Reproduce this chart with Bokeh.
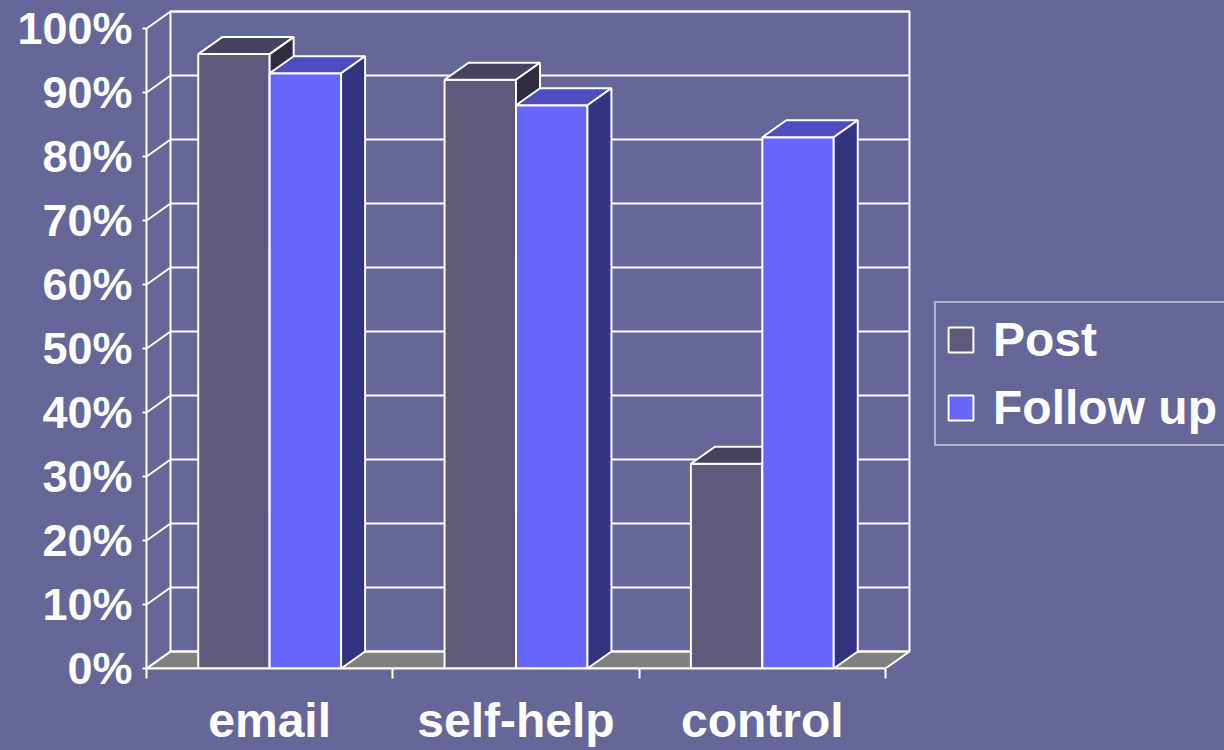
from bokeh.plotting import figure
from bokeh.models import (Range1d, LinearAxis, FixedTicker, Legend, LegendItem)
from bokeh.embed import file_html
from bokeh.resources import INLINE

# ---- data ----
categories = ["email", "self-help", "control"]
post = [96, 92, 32]              # Post (%)
follow_up = [93, 88, 83]         # Follow up (%)
y_ticks = [0, 10, 20, 30, 40, 50, 60, 70, 80, 90, 100]
y_tick_labels = ["0%", "10%", "20%", "30%", "40%", "50%", "60%", "70%", "80%", "90%", "100%"]

# ---- style ----
BG = "#666699"
POST_FRONT, POST_TOP, POST_SIDE = "#5f597c", "#474260", "#2f2c40"
FU_FRONT, FU_TOP, FU_SIDE = "#6666ff", "#4d4dbf", "#333380"
FLOOR = "#808080"
FONT = "Liberation Sans"
PX_PER_CAT = 246.33
PX_PER_PCT = 6.4
DX = 24 / PX_PER_CAT
DY = 17 / PX_PER_PCT
BAR_W = 0.29

W, H = 1224, 750
LEFT, BOTTOM = 146, 82
frame_w = W - LEFT
frame_h = H - BOTTOM

p = figure(width=W, height=H, output_backend="svg", toolbar_location=None,
           x_range=Range1d(0, frame_w / PX_PER_CAT),
           y_range=Range1d(0, frame_h / PX_PER_PCT),
           x_axis_type=None, y_axis_type=None,
           min_border_left=LEFT, min_border_right=0, min_border_top=0,
           min_border_bottom=BOTTOM)
p.background_fill_alpha = 0
p.border_fill_color = BG
p.outline_line_color = None
p.xgrid.visible = False
p.ygrid.visible = False
p.styles = {"background-color": BG}

ncat = len(categories)
LW = 2

# floor
p.patch([0, ncat, ncat + DX, DX], [0, 0, DY, DY], fill_color=FLOOR,
        line_color="white", line_width=LW)
# back wall
p.patch([DX, ncat + DX, ncat + DX, DX], [DY, DY, 100 + DY, 100 + DY],
        fill_color=None, line_color="white", line_width=LW)
# gridlines: back wall horizontals and left-wall diagonals
gx0, gx1, gy = [], [], []
for t in y_ticks[1:]:
    gx0.append(DX); gx1.append(ncat + DX); gy.append(t + DY)
p.segment(x0=gx0, y0=gy, x1=gx1, y1=gy, line_color="white", line_width=LW)
p.segment(x0=[0] * len(y_ticks), y0=y_ticks, x1=[DX] * len(y_ticks),
          y1=[t + DY for t in y_ticks], line_color="white", line_width=LW)


def bars3d(offset, values, front, top, side):
    xs = [i + 0.5 + offset for i in range(ncat)]
    r = p.vbar(x=xs, top=values, width=BAR_W, bottom=0, fill_color=front,
               line_color="white", line_width=LW)
    tx, ty, sx, sy = [], [], [], []
    for x, v in zip(xs, values):
        x0, x1 = x - BAR_W / 2, x + BAR_W / 2
        tx.append([x0, x1, x1 + DX, x0 + DX]); ty.append([v, v, v + DY, v + DY])
        sx.append([x1, x1 + DX, x1 + DX, x1]); sy.append([0, DY, v + DY, v])
    p.patches(tx, ty, fill_color=top, line_color="white", line_width=LW)
    p.patches(sx, sy, fill_color=side, line_color="white", line_width=LW)
    return r


r_post = bars3d(-BAR_W / 2, post, POST_FRONT, POST_TOP, POST_SIDE)
r_fu = bars3d(BAR_W / 2, follow_up, FU_FRONT, FU_TOP, FU_SIDE)

# y axis
yax = LinearAxis(ticker=FixedTicker(ticks=y_ticks), bounds=(0, 100),
                 major_label_overrides={t: l for t, l in zip(y_ticks, y_tick_labels)})
yax.axis_line_color = "white"
yax.axis_line_width = LW
yax.major_tick_line_color = "white"
yax.major_tick_line_width = LW
yax.major_tick_out = 4
yax.major_tick_in = 0
yax.minor_tick_line_color = None
yax.major_label_standoff = 10
yax.major_label_text_color = "white"
yax.major_label_text_font = FONT
yax.major_label_text_font_style = "bold"
yax.major_label_text_font_size = "45px"
p.add_layout(yax, "left")

# x axis
centers = [i + 0.5 for i in range(ncat)]
xax = LinearAxis(ticker=FixedTicker(ticks=centers, minor_ticks=list(range(ncat + 1))),
                 bounds=(0, ncat),
                 major_label_overrides={c: n for c, n in zip(centers, categories)})
xax.axis_line_color = "white"
xax.axis_line_width = LW
xax.major_tick_line_color = None
xax.major_tick_out = 0
xax.major_tick_in = 0
xax.minor_tick_line_color = "white"
xax.minor_tick_line_width = LW
xax.minor_tick_out = 10
xax.minor_tick_in = 0
xax.major_label_standoff = 15
xax.major_label_text_color = "white"
xax.major_label_text_font = FONT
xax.major_label_text_font_style = "bold"
xax.major_label_text_font_size = "48px"
p.add_layout(xax, "below")

legend = Legend(items=[LegendItem(label="Post", renderers=[r_post]),
                       LegendItem(label="Follow up", renderers=[r_fu])],
                location=(788, 222))
legend.background_fill_alpha = 0
legend.border_line_color = "white"
legend.border_line_width = LW
legend.label_text_color = "white"
legend.label_text_font = FONT
legend.label_text_font_style = "bold"
legend.label_text_font_size = "48px"
legend.glyph_width = 31
legend.glyph_height = 31
legend.label_standoff = 17
legend.padding = 9
legend.spacing = 13
legend.margin = 0
p.add_layout(legend)

open("out.html", "w").write(file_html(p, INLINE))
